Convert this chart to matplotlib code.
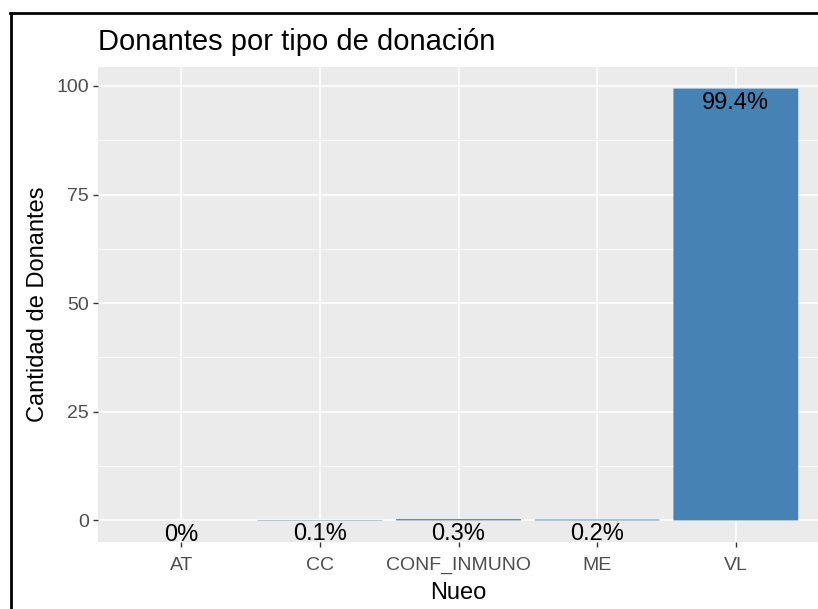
#!/usr/bin/env python3
"""Donantes por tipo de donacion - ggplot-like bar chart."""

import matplotlib
matplotlib.use("Agg")
import matplotlib.pyplot as plt
from matplotlib.lines import Line2D

categories = ["AT", "CC", "CONF_INMUNO", "ME", "VL"]
values = [0.0, 0.1, 0.3, 0.2, 99.4]
labels = ["0%", "0.1%", "0.3%", "0.2%", "99.4%"]
y_ticks = [0, 25, 50, 75, 100]
y_minor = [12.5, 37.5, 62.5, 87.5]

plt.rcParams["font.family"] = ["Liberation Sans", "DejaVu Sans"]

W, H = 818, 609
fig = plt.figure(figsize=(W / 100, H / 100), dpi=100)
# panel: left 98, right 819, top 67, bottom 542 (pixels)
ax = fig.add_axes([98 / W, 1 - 542 / H, (819 - 98) / W, (542 - 67) / H])
ax.set_facecolor("#EBEBEB")

x = list(range(len(categories)))
bars = ax.bar(x, values, width=0.9, color="#4682B4", zorder=3)
for b in bars:
    b.set_snap(False)
for xi, v, lab in zip(x, values, labels):
    ax.annotate(lab, (xi, v), xytext=(0, -2.5), textcoords="offset points",
                ha="center", va="top", fontsize=17, color="black", zorder=4)

ymax = max(values)
ax.set_xlim(-0.6, len(categories) - 0.4)
ax.set_ylim(-0.05 * ymax, ymax * 1.05)
ax.set_yticks(y_ticks)
ax.set_yticks(y_minor, minor=True)
ax.set_xticks(x, categories)

ax.grid(which="major", color="white", linewidth=1.1, zorder=0)
ax.grid(which="minor", axis="y", color="white", linewidth=0.55, zorder=0)
ax.set_axisbelow(True)
for s in ax.spines.values():
    s.set_visible(False)

ax.tick_params(which="major", length=3.6, width=1.0, color="#333333",
               labelcolor="#4D4D4D", labelsize=14, pad=3)
ax.tick_params(axis="x", which="major", pad=7)
ax.tick_params(which="minor", length=0)

ax.set_xlabel("Nueo", fontsize=17, color="black", labelpad=6)
ax.set_ylabel("Cantidad de Donantes", fontsize=17, color="black", labelpad=5)
ax.set_title("Donantes por tipo de donación", fontsize=21, loc="left", pad=12)

# black frame of the screenshot (left and top edges)
fig.add_artist(Line2D([10.5 / W, 10.5 / W], [0, 1 - 13 / H], color="black",
                      linewidth=2, transform=fig.transFigure))
fig.add_artist(Line2D([10 / W, 1], [1 - 13 / H, 1 - 13 / H], color="black",
                      linewidth=2, transform=fig.transFigure))

fig.savefig("out.png", dpi=100, facecolor="white")
